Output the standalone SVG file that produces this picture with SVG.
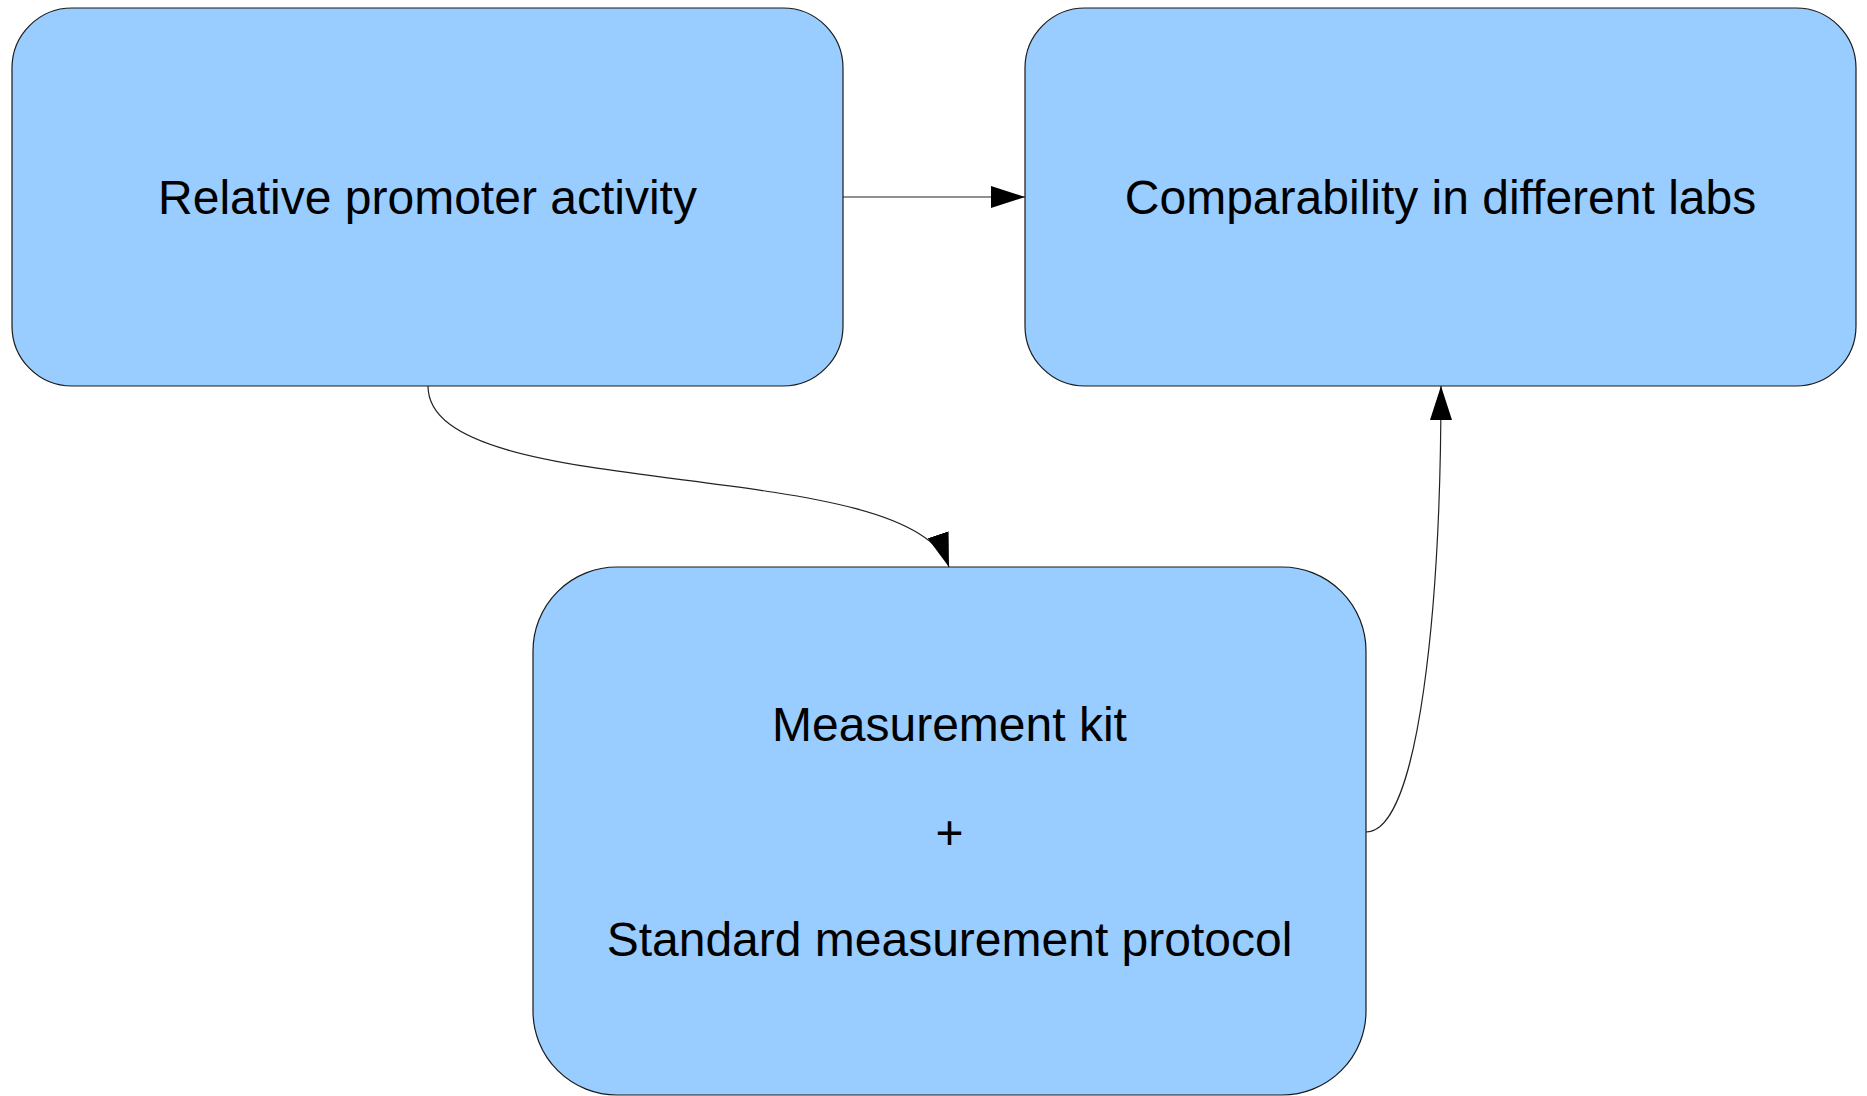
<svg xmlns="http://www.w3.org/2000/svg" width="1867" height="1096" viewBox="0 0 1867 1096">
<style>
.node rect{fill:#99ccff;stroke:#1a1a1a;stroke-width:1.2}
.node text{font-family:"Liberation Sans",Arial,sans-serif;font-size:48px;fill:#000;text-anchor:middle}
.conn path{fill:none;stroke:#222;stroke-width:1.2}
</style>
<defs>
<marker id="arrow" viewBox="0 0 34 22" refX="34" refY="11" markerWidth="34" markerHeight="22" markerUnits="userSpaceOnUse" orient="auto">
<path d="M0,0 L34,11 L0,22 z" fill="#000"/>
</marker>
</defs>
<rect width="1867" height="1096" fill="#fff"/>
<g id="node-relative">
<g class="node">
<rect x="12" y="8" width="831" height="378" rx="60" ry="60"/>
<text x="427.5" y="214">Relative promoter activity</text>
</g>
</g>
<g id="node-comparability">
<g class="node">
<rect x="1025" y="8" width="831" height="378" rx="60" ry="60"/>
<text x="1440.5" y="214">Comparability in different labs</text>
</g>
</g>
<g id="node-measurement">
<g class="node">
<rect x="533" y="567" width="833" height="528" rx="84" ry="84"/>
<text x="949.5" y="741">Measurement kit</text>
<text x="949.5" y="849">+</text>
<text x="949.5" y="956">Standard measurement protocol</text>
</g>
</g>
<g id="connectors" class="conn">
<path d="M843,197 L1025,197" marker-end="url(#arrow)"/>
<path d="M428,386 C428,506 910.6,453 949,567" marker-end="url(#arrow)"/>
<path d="M1366,832 C1420,832 1441,600 1441,386" marker-end="url(#arrow)"/>
</g>
</svg>
